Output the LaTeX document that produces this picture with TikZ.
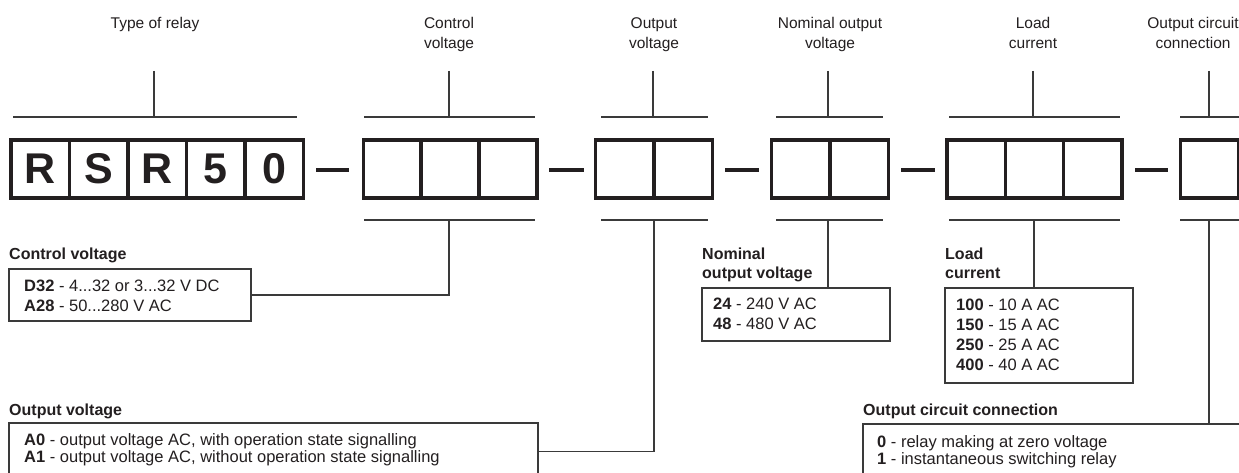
\documentclass[tikz,border=0pt]{standalone}
\usepackage{fontspec}
\setmainfont{Liberation Sans}
\definecolor{ink}{HTML}{231F20}
\definecolor{rule}{HTML}{3A3A3A}
\begin{document}
\begin{tikzpicture}[x=1pt,y=-1pt,
  cell/.style={draw=ink, line width=3.3pt, minimum width=58.3pt, minimum height=58pt, inner sep=0pt, outer sep=0pt,
    font=\fontsize{43}{43}\selectfont\bfseries, text=ink},
  dashmark/.style={draw=ink, line width=3.2pt},
  bracket/.style={draw=rule, line width=2pt},
  stem/.style={draw=rule, line width=1.4pt},
  conn/.style={draw=rule, line width=1.2pt},
  infobox/.style={draw=rule, line width=1.2pt, inner sep=0pt, outer sep=0pt},
  toplabel/.style={anchor=base, inner sep=0pt, font=\fontsize{15.5}{19}\selectfont, text=ink},
  boxlabel/.style={anchor=base west, inner sep=0pt, font=\fontsize{16}{19}\selectfont\bfseries, text=ink},
  boxtext/.style={anchor=base west, inner sep=0pt, font=\fontsize{16.5}{20}\selectfont, text=ink}]
\useasboundingbox (0,0) rectangle (1239,473);
\fill[white] (0,0) rectangle (1239,473);

% ---- code cells ----
\foreach \i/\l in {0/R,1/S,2/R,3/5,4/0}
  \node[cell] (r\i) at ({11+29.15+58.5*\i},169) {\l};
\foreach \i in {0,1,2}
  \node[cell] (c\i) at ({363.5+28.85+57.7*\i},169) {};
\foreach \i in {0,1}
  \node[cell] (o\i) at ({595.5+29.25+58.5*\i},169) {};
\foreach \i in {0,1}
  \node[cell] (n\i) at ({771.5+29.25+58.5*\i},169) {};
\foreach \i in {0,1,2}
  \node[cell] (l\i) at ({947+29.15+58.3*\i},169) {};
\node[cell] (k0) at ({1180.5+29.25},169) {};

% ---- dashes ----
\foreach \a/\b in {316/349,549/584,725/759,901/935,1135/1168}
  \draw[dashmark] (\a,170) -- (\b,170);

% ---- top labels ----
\node[toplabel] (t1) at (155,29) {Type of relay};
\node[toplabel] (t2a) at (449,29) {Control};
\node[toplabel] (t2b) at (449,49) {voltage};
\node[toplabel] (t3a) at (654,29) {Output};
\node[toplabel] (t3b) at (654,49) {voltage};
\node[toplabel] (t4a) at (830,29) {Nominal output};
\node[toplabel] (t4b) at (830,49) {voltage};
\node[toplabel] (t5a) at (1033,29) {Load};
\node[toplabel] (t5b) at (1033,49) {current};
\node[toplabel] (t6a) at (1193,29) {Output circuit};
\node[toplabel] (t6b) at (1193,49) {connection};

% ---- top brackets ----
\foreach \a/\m/\b in {13/154/297,364/449/535,601/653/708,776/828/883,949/1033/1120,1180/1209/1245}{
  \draw[bracket] (\a,117) -- (\b,117);
  \draw[stem] (\m,71) -- (\m,117);
}
% ---- bottom brackets ----
\foreach \a/\b in {364/535,601/708,776/883,949/1120,1180/1245}
  \draw[bracket] (\a,220) -- (\b,220);

% ---- info boxes ----
\node[boxlabel] (cvl) at (9,259) {Control voltage};
\node[infobox, anchor=north west, minimum width=242pt, minimum height=52pt] (cvbox) at (9,269) {};
\node[boxtext] (cv1) at (24,291) {\textbf{D32} - 4...32 or 3...32 V DC};
\node[boxtext] (cv2) at (24,311) {\textbf{A28} - 50...280 V AC};

\node[boxlabel] (ovl) at (9,415) {Output voltage};
\node[infobox, anchor=north west, minimum width=529pt, minimum height=57pt] (ovbox) at (9,423) {};
\node[boxtext] (ov1) at (24,445) {\textbf{A0} - output voltage AC, with operation state signalling};
\node[boxtext] (ov2) at (24,462) {\textbf{A1} - output voltage AC, without operation state signalling};

\node[boxlabel] (nvl1) at (702,259) {Nominal};
\node[boxlabel] (nvl2) at (702,278) {output voltage};
\node[infobox, anchor=north west, minimum width=188pt, minimum height=53pt] (nvbox) at (702,288) {};
\node[boxtext] (nv1) at (713,309) {\textbf{24} - 240 V AC};
\node[boxtext] (nv2) at (713,329) {\textbf{48} - 480 V AC};

\node[boxlabel] (lcl1) at (945,259) {Load};
\node[boxlabel] (lcl2) at (945,278) {current};
\node[infobox, anchor=north west, minimum width=188pt, minimum height=95pt] (lcbox) at (945,288) {};
\node[boxtext] (lc1) at (956,310) {\textbf{100} - 10 A AC};
\node[boxtext] (lc2) at (956,330) {\textbf{150} - 15 A AC};
\node[boxtext] (lc3) at (956,350) {\textbf{250} - 25 A AC};
\node[boxtext] (lc4) at (956,370) {\textbf{400} - 40 A AC};

\node[boxlabel] (ocl) at (863,415) {Output circuit connection};
\node[infobox, anchor=north west, minimum width=400pt, minimum height=60pt] (ocbox) at (863,424) {};
\node[boxtext] (oc1) at (877,447) {\textbf{0} - relay making at zero voltage};
\node[boxtext] (oc2) at (877,464) {\textbf{1} - instantaneous switching relay};

% ---- connectors ----
\draw[conn] (449,220) |- (cvbox.east);
\draw[conn] (654,220) |- (ovbox.east);
\draw[conn] (828,220) -- (828,220 |- nvbox.north);
\draw[conn] (1034,220) -- (1034,220 |- lcbox.north);
\draw[conn] (1209,220) -- (1209,220 |- ocbox.north);
\end{tikzpicture}
\end{document}
